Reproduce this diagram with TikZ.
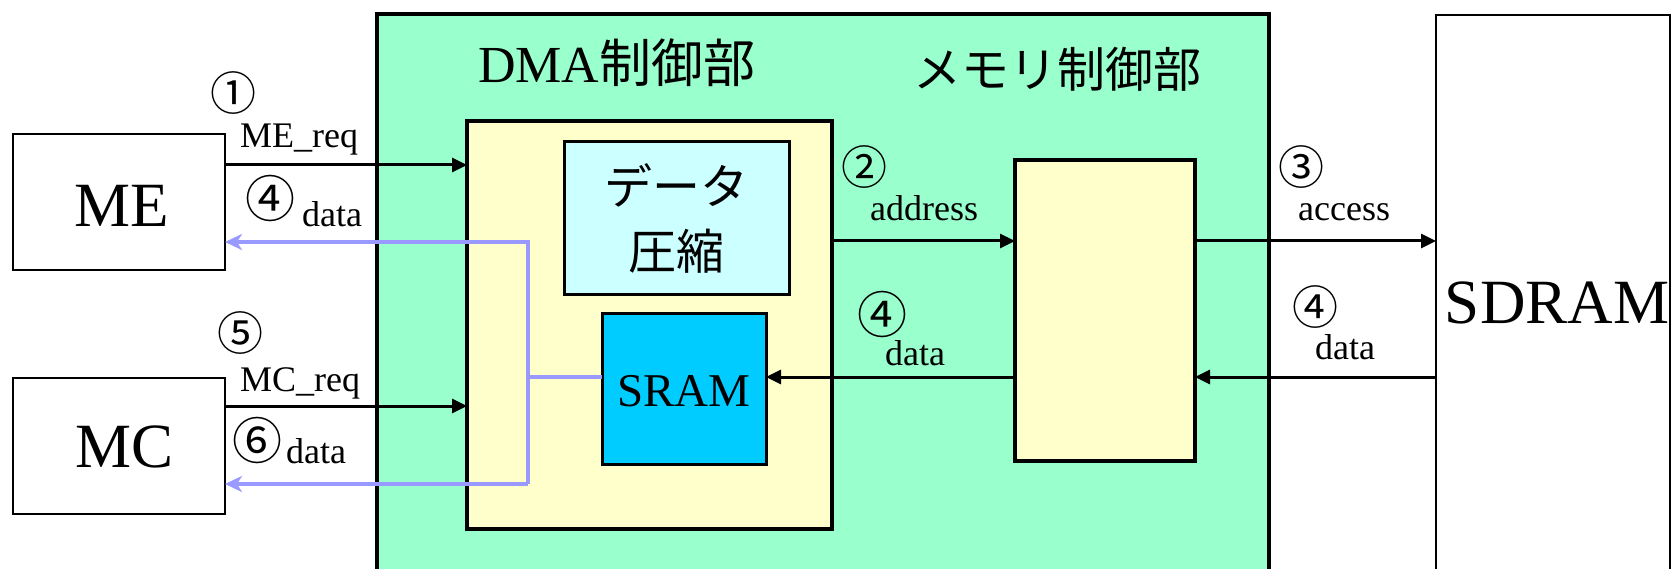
\documentclass[tikz,border=0pt]{standalone}
\usepackage{fontspec}
\setmainfont{Liberation Serif}
\newfontfamily\jp{Noto Sans CJK JP}
\usetikzlibrary{arrows.meta}
\definecolor{ctrlgreen}{RGB}{153,255,204}
\definecolor{dmayellow}{RGB}{255,255,204}
\definecolor{compcyan}{RGB}{204,255,255}
\definecolor{sramblue}{RGB}{0,204,255}
\definecolor{lineblue}{RGB}{153,153,255}
\begin{document}
\begin{tikzpicture}[x=1pt,y=-1pt,
  box/.style={draw=black,rectangle,inner sep=0pt,outer sep=0pt},
  lbl/.style={inner sep=0pt,anchor=base west,font=\fontsize{36}{40}\selectfont},
  num/.style={inner sep=0pt,anchor=center,font=\jp\fontsize{46}{50}\selectfont},
  bignum/.style={inner sep=0pt,anchor=center,font=\jp\fontsize{50}{54}\selectfont},
  big/.style={inner sep=0pt,anchor=base,font=\fontsize{63}{70}\selectfont},
  arr/.style={line width=3pt,-{Triangle[length=15pt,width=14pt]}},
  blu/.style={draw=lineblue,line width=3.5pt},
  bluarr/.style={blu,-{Stealth[length=17pt,width=16pt,inset=5pt]}}]
\clip (0,0) rectangle (1672,569);
\fill[white] (0,0) rectangle (1672,569);
% boxes
\node[box,line width=2.5pt,minimum width=212pt,minimum height=136pt] (ME) at (119,202) {};
\node[box,line width=2.5pt,minimum width=212pt,minimum height=136pt] (MC) at (119,446) {};
\node[box,line width=3.5pt,fill=ctrlgreen,minimum width=892pt,minimum height=600pt] (ctrl) at (823,314) {};
\node[box,line width=4pt,fill=dmayellow,minimum width=365pt,minimum height=408pt] (dma) at (649.5,325) {};
\node[box,line width=3pt,fill=compcyan,minimum width=225pt,minimum height=152pt,align=center,
      font=\jp\fontsize{48}{65}\selectfont] (comp) at (676.5,218) {データ\\圧縮};
\node[box,line width=3pt,fill=sramblue,minimum width=164pt,minimum height=151pt] (sram) at (684,388.5) {};
\node[box,line width=3.5pt,fill=dmayellow,minimum width=180pt,minimum height=301pt] (mem) at (1105,310.5) {};
\node[box,line width=2.5pt,minimum width=234pt,minimum height=620pt] (sdram) at (1553,325) {};
% big texts
\node[big] (tME) at (122,227) {ME};
\node[big] (tMC) at (125,467) {MC};
\node[big] (tSD) at (1557,323) {SDRAM};
\node[inner sep=0pt,anchor=base,font=\fontsize{47}{50}\selectfont] (tSR) at (684,406) {SRAM};
\node[inner sep=0pt,anchor=base west,font=\fontsize{52}{56}\selectfont] (tDMA) at (478,83) {DMA{\jp 制御部}};
\node[inner sep=0pt,anchor=center,font=\jp\fontsize{48}{52}\selectfont] (tMEM) at (1057,69) {メモリ制御部};
% labels
\node[lbl] (lreq1) at (240,148) {ME\_req};
\node[lbl] (ldat1) at (302,227) {data};
\node[lbl] (lreq2) at (240,391) {MC\_req};
\node[lbl] (ldat2) at (286,463) {data};
\node[lbl] (laddr) at (870,221) {address};
\node[lbl] (ldat3) at (885,365) {data};
\node[lbl] (lacc) at (1298,221) {access};
\node[lbl] (ldat4) at (1315,359) {data};
% circled numbers
\node[num] (n1) at (233,93) {①};
\node[bignum] (n4a) at (270,199) {④};
\node[num] (n5) at (240,333) {⑤};
\node[bignum] (n6) at (257,440) {⑥};
\node[num] (n2) at (864,167) {②};
\node[bignum] (n4b) at (882,314) {④};
\node[num] (n3) at (1301,167) {③};
\node[num] (n4c) at (1315,307) {④};
% rows
\coordinate (yreq1) at (0,165);
\coordinate (yreq2) at (0,406);
\coordinate (yaddr) at (0,241);
\coordinate (ydat) at (0,377);
\coordinate (bt) at (528,242);
\coordinate (bj) at (528,377);
\coordinate (bb) at (528,484);
% black arrows
\draw[arr] (ME.east |- yreq1) -- (dma.west |- yreq1);
\draw[arr] (MC.east |- yreq2) -- (dma.west |- yreq2);
\draw[arr] (dma.east |- yaddr) -- (mem.west |- yaddr);
\draw[arr] (mem.west |- ydat) -- (sram.east |- ydat);
\draw[arr] (mem.east |- yaddr) -- (sdram.west |- yaddr);
\draw[arr] (sdram.west |- ydat) -- (mem.east |- ydat);
% blue data lines
\draw[blu] (sram.west |- bj) -- (bj);
\draw[bluarr] (bb) -- (bt) -- (ME.east |- bt);
\draw[bluarr] (bb) -- (MC.east |- bb);
\end{tikzpicture}
\end{document}
